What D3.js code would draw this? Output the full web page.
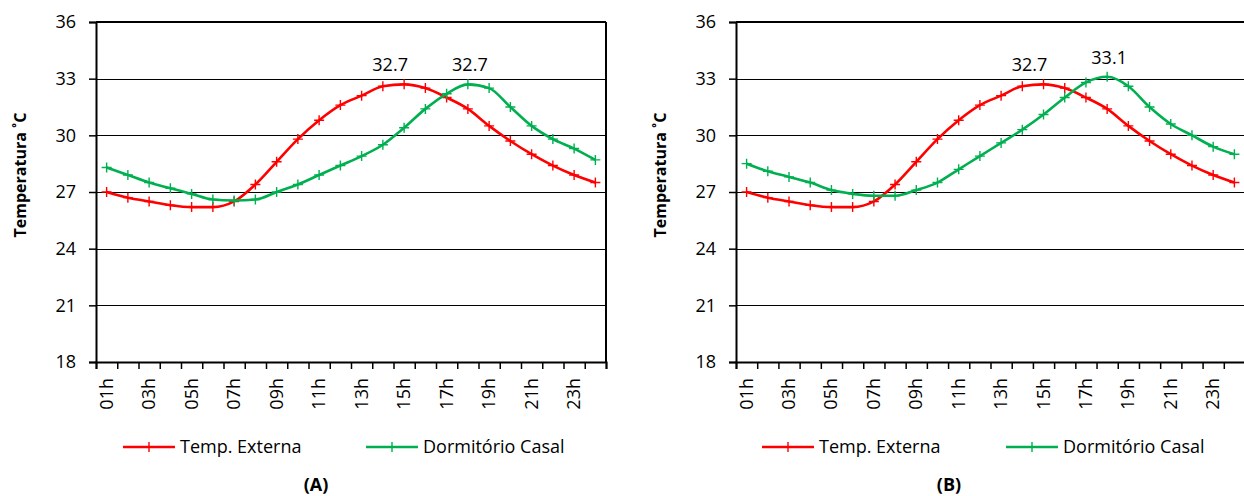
<!DOCTYPE html>
<html>
<head>
<meta charset="utf-8">
<script src="https://cdn.jsdelivr.net/npm/d3@7"></script>
<style>
  html, body { margin: 0; padding: 0; background: #fff; }
  svg { display: block; }
  text { font-family: "Open Sans", "Noto Sans", sans-serif; fill: #000; }
</style>
</head>
<body>
<svg id="chart" width="1244" height="496"></svg>
<script>
// ---------- data ----------
const hours = ["01h","02h","03h","04h","05h","06h","07h","08h","09h","10h","11h","12h",
               "13h","14h","15h","16h","17h","18h","19h","20h","21h","22h","23h","24h"];
const xTickLabels = ["01h","03h","05h","07h","09h","11h","13h","15h","17h","19h","21h","23h"];
const yTicks = [18, 21, 24, 27, 30, 33, 36];
const seriesNames = ["Temp. Externa", "Dormitório Casal"];
const panelTitles = ["(A)", "(B)"];
const yTitle = "Temperatura \u02DAC";

const tempExternaA = [27.0, 26.7, 26.5, 26.3, 26.2, 26.2, 26.5, 27.4, 28.6, 29.8, 30.8, 31.6,
                      32.1, 32.6, 32.7, 32.5, 32.0, 31.4, 30.5, 29.7, 29.0, 28.4, 27.9, 27.5];
const dormitorioA = [28.3, 27.9, 27.5, 27.2, 26.9, 26.6, 26.55, 26.6, 27.0, 27.4, 27.9, 28.4,
                     28.9, 29.5, 30.4, 31.4, 32.2, 32.7, 32.5, 31.5, 30.5, 29.8, 29.3, 28.7];
const tempExternaB = [27.0, 26.7, 26.5, 26.3, 26.2, 26.2, 26.5, 27.4, 28.6, 29.8, 30.8, 31.6,
                      32.1, 32.6, 32.7, 32.5, 32.0, 31.4, 30.5, 29.7, 29.0, 28.4, 27.9, 27.5];
const dormitorioB = [28.5, 28.1, 27.8, 27.5, 27.1, 26.9, 26.8, 26.8, 27.1, 27.5, 28.2, 28.9,
                     29.6, 30.3, 31.1, 32.0, 32.8, 33.1, 32.6, 31.5, 30.6, 30.0, 29.4, 29.0];

// peak labels: [hour, value]
const peaksA = [["15h", 32.7], ["18h", 32.7]];
const peaksB = [["15h", 32.7], ["18h", 33.1]];

// ---------- drawing ----------
const colors = ["#FF0000", "#00B050"];
const svg = d3.select("#chart");

function drawPanel(cfg) {
  const { left, right, top, bottom, data, peaks, title, titleX, legend } = cfg;
  const g = svg.append("g");

  const x = d3.scaleBand().domain(hours).range([left, right]);
  const xb = d3.scaleLinear().domain([0, hours.length]).range([left, right]);
  const y = d3.scaleLinear().domain([18, 36]).range([bottom, top]);
  const cx = h => x(h) + x.bandwidth() / 2;

  // gridlines
  g.append("g").selectAll("line").data(yTicks.filter(t => t > 18 && t < 36)).join("line")
    .attr("x1", left).attr("x2", right)
    .attr("y1", d => Math.round(y(d)) + 0.5).attr("y2", d => Math.round(y(d)) + 0.5)
    .attr("stroke", "#000").attr("stroke-width", 1);

  // frame: top & right
  g.append("line").attr("x1", left).attr("x2", right).attr("y1", y(36)).attr("y2", y(36))
    .attr("stroke", "#000").attr("stroke-width", 2);
  g.append("line").attr("x1", right).attr("x2", right).attr("y1", y(36)).attr("y2", y(18))
    .attr("stroke", "#000").attr("stroke-width", 2);

  // y axis
  const ya = g.append("g").attr("transform", `translate(${left},0)`)
    .call(d3.axisLeft(y).tickValues(yTicks).tickSize(7).tickPadding(13).tickFormat(d3.format("d")));
  ya.select(".domain").attr("stroke", "#000").attr("stroke-width", 2);
  ya.selectAll(".tick line").attr("stroke", "#000").attr("stroke-width", 1.5);
  ya.selectAll(".tick text").style("font-size", "18px").style("font-family", "'Open Sans', sans-serif");

  // x axis (ticks at category boundaries)
  const xa = g.append("g").attr("transform", `translate(0,${bottom})`)
    .call(d3.axisBottom(xb).tickValues(d3.range(hours.length + 1)).tickSize(7).tickFormat(""));
  xa.select(".domain").attr("stroke", "#000").attr("stroke-width", 2);
  xa.selectAll(".tick line").attr("stroke", "#000").attr("stroke-width", 1.5);

  // x labels (rotated)
  g.append("g").selectAll("text").data(xTickLabels).join("text")
    .attr("transform", d => `translate(${cx(d) + 6},${bottom + 16}) rotate(-90)`)
    .attr("text-anchor", "end")
    .style("font-size", "18px")
    .text(d => d);

  // y title
  g.append("text")
    .attr("transform", `translate(${left - 70},${(top + bottom) / 2 - 17}) rotate(-90)`)
    .attr("text-anchor", "middle")
    .style("font-size", "16px").style("font-weight", "bold")
    .text(yTitle);

  // lines + markers
  const line = d3.line().x((d, i) => cx(hours[i])).y(d => y(d)).curve(d3.curveMonotoneX);
  data.forEach((vals, si) => {
    g.append("path").datum(vals).attr("d", line)
      .attr("fill", "none").attr("stroke", colors[si]).attr("stroke-width", 2.6)
      .attr("stroke-linejoin", "round");
    g.append("g").selectAll("path").data(vals).join("path")
      .attr("d", (d, i) => {
        const px = cx(hours[i]), py = y(d);
        return `M${px - 5},${py}H${px + 5}M${px},${py - 5}V${py + 5}`;
      })
      .attr("stroke", colors[si]).attr("stroke-width", 1.4);
  });

  // peak labels
  const offsets = [-14, 2];
  g.append("g").selectAll("text").data(peaks).join("text")
    .attr("x", (d, i) => cx(d[0]) + offsets[i])
    .attr("y", d => y(d[1]) - 13)
    .attr("text-anchor", "middle")
    .style("font-size", "18px")
    .text(d => d3.format(".1f")(d[1]));

  // legend
  seriesNames.forEach((name, si) => {
    const lx = legend[si];
    const ly = 447;
    g.append("line").attr("x1", lx).attr("x2", lx + 52).attr("y1", ly).attr("y2", ly)
      .attr("stroke", colors[si]).attr("stroke-width", 2.6);
    g.append("path").attr("d", `M${lx + 21},${ly}H${lx + 31}M${lx + 26},${ly - 5}V${ly + 5}`)
      .attr("stroke", colors[si]).attr("stroke-width", 1.4);
    g.append("text").attr("x", lx + 57).attr("y", ly + 6)
      .style("font-size", "18px").text(name);
  });

  // panel title
  g.append("text").attr("x", titleX).attr("y", 491).attr("text-anchor", "middle")
    .style("font-size", "18px").style("font-weight", "bold").text(title);
}

drawPanel({ left: 96, right: 606, top: 22, bottom: 362,
            data: [tempExternaA, dormitorioA], peaks: peaksA,
            title: panelTitles[0], titleX: 316, legend: [123, 366] });
drawPanel({ left: 736, right: 1245, top: 22, bottom: 362,
            data: [tempExternaB, dormitorioB], peaks: peaksB,
            title: panelTitles[1], titleX: 949, legend: [762, 1006] });
</script>
</body>
</html>
